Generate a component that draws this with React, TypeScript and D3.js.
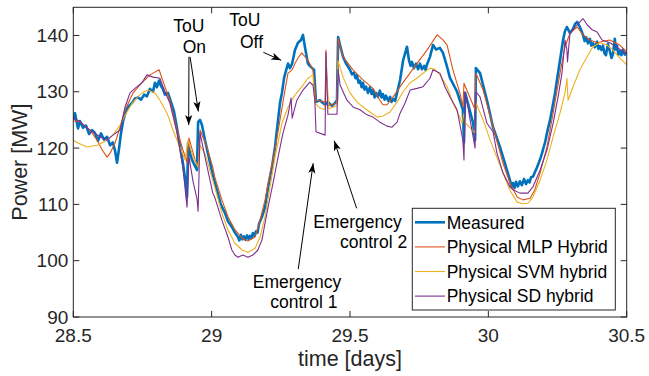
import React from "react";
import * as d3 from "d3";

const xTicks = [28.5, 29, 29.5, 30, 30.5];
const yTicks = [90, 100, 110, 120, 130, 140];
const seriesNames = ["Measured", "Physical MLP Hybrid", "Physical SVM hybrid", "Physical SD hybrid"];

const measured: [number, number][] = [
  [28.500,125.0],[28.506,126.2],[28.517,123.5],[28.524,124.8],[28.535,123.6],[28.546,124.0],[28.557,122.5],[28.568,123.2],[28.578,122.7],[28.589,121.3],[28.600,122.6],[28.611,121.5],[28.622,122.0],[28.633,120.5],[28.643,121.0],[28.651,119.5],[28.658,117.4],[28.665,119.8],[28.672,122.5],[28.680,124.8],[28.690,126.5],[28.701,127.5],[28.712,128.0],[28.723,128.8],[28.734,129.0],[28.745,128.6],[28.756,129.5],[28.766,129.2],[28.777,130.5],[28.788,130.0],[28.795,131.6],[28.802,130.8],[28.810,132.0],[28.817,131.0],[28.824,130.5],[28.831,129.5],[28.842,129.8],[28.853,128.2],[28.864,126.5],[28.875,123.5],[28.885,120.5],[28.896,117.4],[28.907,113.5],[28.911,111.3],[28.915,121.0],[28.922,119.0],[28.929,117.9],[28.940,116.8],[28.947,116.1],[28.951,124.6],[28.958,125.0],[28.965,124.1],[28.976,121.4],[28.987,119.0],[29.000,116.1],[29.011,114.0],[29.022,112.0],[29.033,110.0],[29.048,108.5],[29.059,107.0],[29.073,106.0],[29.084,105.0],
  [29.095,104.2],[29.100,103.6],[29.106,104.6],[29.111,103.8],[29.117,104.3],[29.122,103.7],[29.128,104.5],[29.133,103.9],[29.139,104.4],[29.144,104.0],[29.149,104.9],[29.155,104.4],[29.160,105.2],[29.166,105.0],[29.171,106.5],
  [29.182,107.8],[29.193,109.5],[29.204,113.1],[29.218,116.6],[29.229,120.2],[29.240,125.0],[29.247,128.0],[29.254,129.8],[29.262,132.5],[29.269,133.8],[29.276,135.0],[29.283,134.2],[29.291,135.0],[29.301,137.4],[29.312,138.7],[29.323,139.2],[29.330,140.1],[29.337,138.0],[29.348,135.0],[29.355,134.6],[29.363,134.2],[29.370,133.9],[29.377,128.2],[29.391,128.5],[29.402,128.0],[29.410,127.7],[29.420,128.2],[29.435,127.5],[29.446,128.0],[29.453,128.5],[29.457,139.7],[29.468,137.5],[29.475,136.2],[29.486,135.0],
  [29.500,133.9],[29.507,133.1],[29.514,133.4],[29.520,132.4],[29.525,132.9],[29.531,131.6],[29.536,132.0],[29.542,130.8],[29.547,131.6],[29.552,130.4],[29.558,130.9],[29.565,129.8],[29.572,130.8],[29.578,129.6],[29.583,130.3],[29.589,129.0],[29.594,129.8],[29.601,129.1],[29.608,130.2],[29.614,129.0],[29.619,129.6],[29.625,128.6],[29.630,129.3],[29.638,128.4],[29.645,129.1],[29.650,128.2],[29.656,128.7],[29.663,128.4],[29.670,129.8],
  [29.681,132.1],[29.692,135.6],[29.703,137.5],[29.706,138.0],
  [29.713,135.6],[29.719,134.6],[29.724,135.3],[29.731,134.2],[29.739,135.0],[29.746,134.0],[29.753,135.0],[29.760,134.0],[29.768,134.6],[29.773,133.9],[29.778,134.8],
  [29.789,136.2],[29.800,138.3],[29.811,137.5],[29.825,137.8],[29.836,136.9],[29.851,134.4],[29.861,132.5],[29.887,130.0],[29.908,126.8],[29.912,121.0],[29.916,129.8],[29.926,128.0],[29.945,124.4],[29.952,121.4],[29.955,134.2],[29.970,133.3],[29.995,128.5],[30.017,123.7],[30.042,120.2],[30.060,117.3],
  [30.078,114.3],[30.084,113.1],[30.089,113.8],[30.095,112.9],[30.100,114.0],[30.107,113.2],[30.114,114.1],[30.121,113.4],[30.129,114.5],[30.136,113.6],[30.143,114.3],[30.149,113.9],[30.154,114.8],[30.161,114.9],
  [30.176,116.6],[30.187,118.0],[30.194,119.1],[30.205,121.0],[30.212,122.7],[30.223,125.0],[30.230,126.8],[30.241,129.8],[30.248,132.1],[30.259,135.6],[30.270,139.2],[30.277,140.8],[30.284,141.5],[30.295,140.4],[30.306,141.2],[30.313,142.0],[30.321,142.4],[30.331,141.5],
  [30.342,140.1],[30.348,139.0],[30.353,139.7],[30.360,138.6],[30.367,139.4],[30.372,138.2],[30.378,138.6],[30.385,137.9],[30.393,138.9],[30.398,137.6],[30.403,138.1],[30.409,137.4],[30.414,138.2],[30.420,136.8],[30.425,136.5],[30.432,138.5],[30.439,137.2],[30.445,136.0],[30.450,136.6],[30.457,139.4],[30.461,137.5],[30.465,138.2],[30.470,136.6],[30.475,137.2],[30.481,136.5],[30.486,137.5],[30.493,136.6],[30.500,137.0]
];

const mlpHybrid: [number, number][] = [
  [28.500,124.8],[28.524,124.7],[28.560,123.2],[28.586,121.4],[28.604,119.7],[28.622,118.4],[28.633,119.1],[28.651,120.9],[28.669,123.7],[28.687,126.8],[28.716,129.8],[28.748,131.6],[28.777,133.0],[28.810,133.9],[28.831,130.9],[28.849,128.5],[28.875,123.2],[28.896,119.7],[28.911,117.4],[28.918,121.8],[28.940,117.9],[28.951,116.6],[28.958,123.2],[28.983,120.2],[29.004,116.6],[29.011,114.9],[29.037,110.8],[29.059,107.8],[29.084,105.5],[29.110,104.0],[29.131,103.5],[29.157,104.2],[29.175,107.2],[29.193,110.8],[29.211,115.6],[29.229,119.7],[29.247,125.0],[29.265,130.3],[29.276,133.3],[29.291,133.9],[29.301,135.0],[29.312,136.0],[29.326,136.9],[29.348,135.6],[29.366,133.9],[29.377,128.5],[29.410,128.2],[29.413,137.4],[29.420,127.5],[29.453,128.0],[29.457,139.5],[29.475,136.2],[29.511,133.9],[29.547,132.1],[29.583,130.6],[29.608,128.5],[29.619,127.7],[29.634,127.7],[29.656,129.1],[29.681,130.9],[29.706,132.6],[29.742,135.0],[29.778,137.4],[29.815,140.1],[29.836,139.2],[29.851,138.3],[29.872,133.9],[29.897,129.8],[29.908,127.3],[29.912,131.5],[29.952,126.8],[29.955,133.3],[29.981,130.3],[30.017,123.8],[30.053,117.3],[30.078,113.8],[30.104,111.3],[30.125,110.8],[30.151,111.1],[30.168,112.6],[30.187,115.6],[30.212,120.2],[30.234,126.2],[30.259,133.3],[30.277,138.0],[30.295,140.4],[30.321,141.5],[30.342,140.1],[30.367,139.2],[30.393,138.7],[30.439,139.2],[30.475,138.3],[30.500,137.1]
];

const svmHybrid: [number, number][] = [
  [28.500,121.4],[28.517,120.9],[28.550,120.2],[28.586,120.5],[28.622,121.4],[28.643,122.3],[28.669,124.1],[28.694,126.4],[28.716,128.2],[28.748,129.8],[28.770,130.3],[28.795,129.8],[28.813,128.5],[28.839,126.2],[28.860,123.2],[28.885,120.2],[28.904,117.9],[28.915,121.4],[28.933,118.4],[28.951,116.6],[28.958,120.5],[28.976,119.0],[29.011,113.1],[29.037,108.5],[29.059,105.5],[29.084,103.1],[29.110,101.9],[29.131,101.5],[29.157,102.2],[29.175,104.2],[29.193,107.8],[29.211,113.1],[29.229,118.4],[29.254,124.4],[29.276,127.3],[29.301,129.4],[29.326,130.9],[29.348,132.4],[29.366,133.0],[29.373,128.0],[29.391,127.1],[29.410,126.8],[29.413,135.0],[29.424,127.0],[29.453,127.5],[29.457,135.5],[29.475,132.6],[29.500,129.8],[29.525,128.2],[29.547,127.3],[29.572,126.4],[29.598,125.5],[29.619,125.7],[29.645,126.4],[29.670,128.2],[29.692,130.0],[29.717,131.6],[29.742,132.4],[29.764,133.3],[29.789,134.2],[29.807,134.0],[29.825,133.0],[29.851,130.9],[29.872,128.0],[29.897,125.5],[29.905,124.4],[29.912,126.2],[29.916,124.5],[29.952,122.7],[29.955,128.0],[29.981,125.0],[30.006,121.5],[30.053,115.5],[30.078,112.5],[30.104,110.4],[30.125,110.1],[30.143,110.2],[30.161,111.3],[30.187,114.3],[30.212,117.9],[30.234,122.0],[30.259,126.2],[30.277,129.8],[30.284,132.4],[30.288,128.5],[30.306,130.9],[30.331,133.9],[30.357,136.2],[30.378,138.0],[30.403,138.7],[30.429,138.3],[30.450,137.4],[30.475,136.0],[30.500,134.8]
];

const sdHybrid: [number, number][] = [
  [28.500,125.3],[28.524,124.7],[28.560,123.2],[28.596,122.0],[28.622,121.4],[28.643,122.3],[28.669,123.2],[28.687,127.3],[28.705,129.8],[28.723,130.6],[28.748,131.6],[28.766,133.0],[28.788,132.6],[28.813,132.4],[28.831,130.0],[28.849,128.0],[28.875,122.7],[28.896,116.6],[28.911,109.5],[28.918,118.5],[28.933,114.0],[28.947,111.0],[28.951,108.8],[28.958,122.7],[28.976,118.4],[28.994,114.3],[29.004,112.0],[29.011,111.3],[29.037,107.2],[29.059,104.2],[29.073,101.9],[29.084,101.0],[29.095,100.6],[29.113,101.0],[29.131,100.6],[29.149,101.0],[29.167,101.9],[29.182,103.7],[29.193,106.7],[29.204,109.5],[29.222,113.8],[29.240,118.4],[29.258,122.7],[29.276,125.9],[29.287,128.9],[29.291,125.3],[29.308,128.5],[29.330,130.3],[29.355,131.7],[29.366,131.2],[29.373,128.5],[29.377,122.9],[29.410,122.3],[29.413,137.0],[29.420,126.0],[29.453,126.0],[29.457,134.0],[29.464,131.2],[29.489,128.5],[29.511,127.3],[29.536,126.8],[29.561,125.9],[29.583,125.5],[29.608,124.6],[29.634,123.9],[29.652,123.7],[29.670,124.6],[29.681,126.2],[29.699,128.0],[29.717,130.3],[29.742,130.6],[29.764,130.9],[29.789,132.4],[29.800,133.9],[29.825,133.3],[29.843,130.9],[29.861,129.1],[29.887,126.8],[29.908,121.4],[29.912,117.9],[29.916,130.0],[29.926,127.3],[29.952,120.0],[29.955,130.0],[29.970,129.1],[29.995,124.4],[30.017,122.9],[30.031,119.1],[30.053,115.6],[30.078,113.1],[30.089,112.6],[30.114,112.0],[30.143,112.0],[30.161,113.1],[30.187,116.1],[30.212,119.7],[30.234,124.4],[30.252,129.1],[30.266,133.3],[30.277,139.2],[30.284,137.4],[30.286,135.3],[30.295,140.4],[30.321,141.9],[30.342,143.0],[30.357,141.9],[30.375,141.0],[30.393,140.6],[30.411,139.2],[30.439,138.7],[30.468,137.8],[30.500,136.7]
];

// annotation texts: [label, t, P] (left-aligned, baseline)
const annotationTexts: [string, number, number][] = [
  ["ToU", 28.8614, 140.56],
  ["On", 28.8954, 136.83],
  ["ToU", 29.0638, 141.68],
  ["Off", 29.1025, 137.83],
  ["Emergency", 29.1484, 95.10],
  ["control 1", 29.2120, 91.55],
  ["Emergency", 29.3674, 105.75],
  ["control 2", 29.4639, 102.2],
];
// arrows: [t0, P0, t1, P1] (tip at t1,P1)
const annotationArrows: [number, number, number, number][] = [
  [28.918, 136.2, 28.917, 124.1],
  [28.922, 136.2, 28.952, 126.5],
  [29.187, 137.0, 29.251, 135.6],
  [29.313, 98.5, 29.367, 117.3],
  [29.524, 109.3, 29.443, 121.3],
];

const colors = ["#0072BD", "#D95319", "#EDB120", "#7E2F8E"];
const widths = [2.6, 1.1, 1.1, 1.1];
const FONT = "'Liberation Sans', Arial, Helvetica, sans-serif";

export default function App() {
  const L = 73.3, R = 626.7, T = 7.3, B = 317;
  const x = d3.scaleLinear().domain([28.5, 30.5]).range([L, R]);
  const y = d3.scaleLinear().domain([90, 145]).range([B, T]);
  const line = d3.line<[number, number]>().x(d => x(d[0])).y(d => y(d[1]));
  const all = [measured, mlpHybrid, svmHybrid, sdHybrid];
  const axisColor = "#262626";

  const arrowHead = (x0: number, y0: number, x1: number, y1: number) => {
    const ang = Math.atan2(y1 - y0, x1 - x0);
    const len = 10, hw = 3.6;
    const bx = x1 - len * Math.cos(ang), by = y1 - len * Math.sin(ang);
    const px = -Math.sin(ang) * hw, py = Math.cos(ang) * hw;
    const ix = x1 - len * 0.75 * Math.cos(ang), iy = y1 - len * 0.75 * Math.sin(ang);
    return `M${x1},${y1}L${bx + px},${by + py}L${ix},${iy}L${bx - px},${by - py}Z`;
  };

  const legX = 412.3, legY = 208.3, legW = 203, legH = 101.7;

  return (
    <svg width={649} height={376} style={{ position: "absolute", left: 0, top: 0, background: "#fff" }} fontFamily={FONT}>
      <defs>
        <clipPath id="plotclip">
          <rect x={L} y={T} width={R - L} height={B - T} />
        </clipPath>
      </defs>
      <rect x={0} y={0} width={649} height={376} fill="#fff" />
      <g clipPath="url(#plotclip)">
        {all.map((s, i) => (
          <path key={i} d={line(s) || ""} fill="none" stroke={colors[i]} strokeWidth={widths[i]} strokeLinejoin="round" />
        ))}
      </g>
      <rect x={L} y={T} width={R - L} height={B - T} fill="none" stroke={axisColor} strokeWidth={1} />
      {xTicks.map(t => (
        <g key={"x" + t}>
          <line x1={x(t)} x2={x(t)} y1={B} y2={B - 6} stroke={axisColor} />
          <line x1={x(t)} x2={x(t)} y1={T} y2={T + 6} stroke={axisColor} />
          <text x={x(t)} y={342} textAnchor="middle" fontSize={19} fill={axisColor}>{String(t)}</text>
        </g>
      ))}
      {yTicks.map(v => (
        <g key={"y" + v}>
          <line x1={L} x2={L + 6} y1={y(v)} y2={y(v)} stroke={axisColor} />
          <line x1={R} x2={R - 6} y1={y(v)} y2={y(v)} stroke={axisColor} />
          <text x={L - 5} y={y(v)} dy="0.35em" textAnchor="end" fontSize={19} fill={axisColor}>{String(v)}</text>
        </g>
      ))}
      <text x={(L + R) / 2} y={366} textAnchor="middle" fontSize={21.5} fill={axisColor}>time [days]</text>
      <text transform={`translate(27,${(T + B) / 2}) rotate(-90)`} textAnchor="middle" fontSize={21.5} fill={axisColor}>Power [MW]</text>

      {annotationArrows.map((a, i) => {
        const x0 = x(a[0]), y0 = y(a[1]), x1 = x(a[2]), y1 = y(a[3]);
        return (
          <g key={"a" + i}>
            <line x1={x0} y1={y0} x2={x1} y2={y1} stroke="#000" strokeWidth={1} />
            <path d={arrowHead(x0, y0, x1, y1)} fill="#000" />
          </g>
        );
      })}
      {annotationTexts.map((a, i) => (
        <text key={"t" + i} x={x(a[1])} y={y(a[2])} fontSize={17.5} fill="#000">{a[0]}</text>
      ))}

      <rect x={legX} y={legY} width={legW} height={legH} fill="#fff" stroke={axisColor} strokeWidth={1} />
      {seriesNames.map((n, i) => {
        const cy = 222.3 + i * 24.6;
        return (
          <g key={"l" + i}>
            <line x1={415} x2={445} y1={cy} y2={cy} stroke={colors[i]} strokeWidth={widths[i]} />
            <text x={446.7} y={cy + 6.2} fontSize={17.5} fill="#000">{n}</text>
          </g>
        );
      })}
    </svg>
  );
}
